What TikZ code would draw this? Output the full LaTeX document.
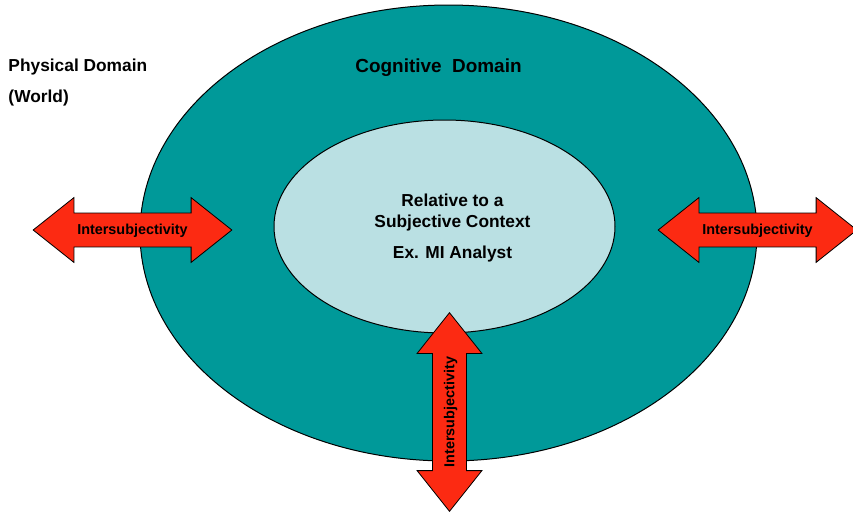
\documentclass[tikz,border=0pt]{standalone}
\usepackage{fontspec}
\setmainfont{Liberation Sans}
\usetikzlibrary{shapes.geometric,shapes.arrows}

\definecolor{cogteal}{HTML}{009999}
\definecolor{subjblue}{HTML}{BAE0E3}
\definecolor{interred}{HTML}{FC2A12}

\tikzset{every picture/.style={line width=0.75pt}}
\tikzset{
  domainoval/.style={ellipse, draw=black, inner sep=0pt},
  intarrow/.style={double arrow, draw=black, fill=interred, line width=0.6pt,
    minimum height=149pt, minimum width=48pt, double arrow head extend=11.6pt,
    double arrow tip angle=77, inner xsep=2pt, inner ysep=7.3pt,
    text height=8.8pt, text depth=1.4pt,
    font=\fontsize{10.8}{13}\selectfont\bfseries},
  domtext/.style={inner sep=0.75pt, font=\fontsize{13}{15.75}\selectfont\bfseries}
}

\begin{document}
\begin{tikzpicture}[x=0.75pt,y=0.75pt,yscale=-1,xscale=1]
	\useasboundingbox (0,0) rectangle (853,512);
	
	%Shape: Ellipse [cognitive domain]
	\node [domainoval, fill=cogteal, minimum width=462.75pt, minimum height=342pt] (cog) at (448.5,233) {};
	%Shape: Ellipse [subjective context]
	\node [domainoval, fill=subjblue, minimum width=255.75pt, minimum height=159.75pt] (subj) at (444.5,226.5) {};
	
	% Text Node
	\node [domtext, anchor=west, align=left] (phys) at (7,82.5) {Physical Domain\\[7.5pt](World)};
	% Text Node
	\node [domtext, font=\fontsize{14.2}{17}\selectfont\bfseries] (cogtxt) at (438.5,68) {Cognitive\ \ Domain};
	% Text Node
	\node [domtext, align=center] (subjtxt) at (452.5,228) {Relative to a\\Subjective Context\\[7.5pt]Ex. MI Analyst};
	
	%Shape: Double Arrows
	\node [intarrow] (interL) at (132.5,230) {Intersubjectivity};
	\node [intarrow] (interR) at (757.5,230) {Intersubjectivity};
	\node [intarrow, rotate=90] (interB) at (449.5,412) {Intersubjectivity};
	
\end{tikzpicture}
\end{document}
